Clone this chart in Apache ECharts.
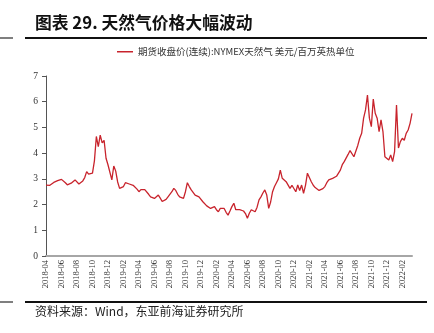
<!DOCTYPE html>
<html><head><meta charset="utf-8">
<script src="https://cdn.jsdelivr.net/npm/echarts@6/dist/echarts.min.js"></script>
<style>html,body{margin:0;padding:0;background:#fff}#c{width:434px;height:333px}</style>
</head><body><div id="c"></div>
<script>
var months = ['2018-04','2018-05','2018-06','2018-07','2018-08','2018-09','2018-10','2018-11','2018-12',
 '2019-01','2019-02','2019-03','2019-04','2019-05','2019-06','2019-07','2019-08','2019-09','2019-10','2019-11','2019-12',
 '2020-01','2020-02','2020-03','2020-04','2020-05','2020-06','2020-07','2020-08','2020-09','2020-10','2020-11','2020-12',
 '2021-01','2021-02','2021-03','2021-04','2021-05','2021-06','2021-07','2021-08','2021-09','2021-10','2021-11','2021-12',
 '2022-01','2022-02','2022-03'];
// weekly closes, one row per month (USD/MMBtu)
var weeklyPrices = [
 [2.76,2.72,2.75,2.80],[2.86,2.90,2.93,2.97],[2.98,2.93,2.85,2.77],[2.76,2.83,2.90,2.96],
 [2.90,2.80,2.80,2.92],[3.05,3.28,3.18,3.25],[3.22,3.70,4.65,4.25],[4.70,4.40,4.50,3.80],
 [3.55,3.60,2.96,3.50],[3.30,2.88,2.63,2.60],[2.70,2.85,2.82,2.80],[2.83,2.75,2.68,2.60],
 [2.50,2.58,2.63,2.58],[2.57,2.40,2.30,2.25],[2.24,2.30,2.37,2.25],[2.12,2.15,2.20,2.30],
 [2.35,2.50,2.63,2.55],[2.40,2.30,2.27,2.24],[2.50,2.85,2.70,2.57],[2.50,2.37,2.33,2.30],
 [2.25,2.11,2.05,1.95],[1.88,1.85,1.90,1.92],[1.80,1.72,1.85,1.80],[1.85,1.70,1.59,1.75],
 [1.92,2.05,1.80,1.78],[1.80,1.79,1.75,1.65],[1.47,1.66,1.80,1.75],[1.72,1.90,2.18,2.30],
 [2.45,2.57,2.37,1.85],[2.10,2.50,2.70,2.85],[3.00,3.34,3.02,2.95],[2.89,2.83,2.63,2.75],
 [2.70,2.50,2.76,2.55],[2.76,2.44,2.75,3.22],[3.15,2.89,2.75,2.66],[2.63,2.55,2.50,2.62],
 [2.70,2.85,2.96,3.00],[3.02,3.05,3.10,3.15],[3.34,3.55,3.67,3.67],[3.95,4.10,4.12,3.86],
 [3.93,4.30,4.58,4.77],[5.36,5.68,6.26,5.36],[5.03,6.10,5.55,5.36],[4.84,5.29,4.84,3.86],
 [3.80,3.73,3.93,3.67],[4.06,5.87,4.20,4.45],[4.58,4.50,4.77,4.90],[5.16,5.55]
];
var seriesName = '期货收盘价(连续):NYMEX天然气 美元/百万英热单位';
var titleText = '图表 29. 天然气价格大幅波动';
var sourceText = '资料来源：Wind，东亚前海证券研究所';

var cats = [], vals = [], labelIdx = {};
months.forEach(function(m, i){
  weeklyPrices[i].forEach(function(v, k){
    if (k === 0 && i % 2 === 0) labelIdx[cats.length] = true;
    cats.push(k === 0 ? m : m + '#' + k);
    vals.push(v);
  });
});

var chart = echarts.init(document.getElementById('c'), null, {renderer:'canvas'});
chart.setOption({
  animation:false,
  backgroundColor:'#fff',
  grid:{left:46,right:22,top:76,bottom:77},
  legend:{
    left:112, top:42, icon:'rect', itemWidth:16, itemHeight:1.5, itemGap:4,
    textStyle:{fontSize:9.5,color:'#333',fontFamily:'"Noto Sans CJK SC", sans-serif'},
    data:[seriesName]
  },
  xAxis:{
    type:'category', data:cats, boundaryGap:false,
    axisLine:{lineStyle:{color:'#a6a6a6',width:2}},
    axisTick:{show:false},
    axisLabel:{
      rotate:90, margin:4, fontSize:8.5, color:'#333', fontFamily:'"Liberation Serif", serif',
      interval:function(idx){ return !!labelIdx[idx]; },
      formatter:function(v){ return v.split('#')[0]; }
    },
    splitLine:{show:false}
  },
  yAxis:{
    type:'value', min:0, max:7, interval:1,
    axisLine:{show:true,lineStyle:{color:'#555',width:1}},
    axisTick:{show:true,length:4,lineStyle:{color:'#555'}},
    axisLabel:{fontSize:9.5,color:'#333',margin:8,fontFamily:'"Liberation Serif", serif'},
    splitLine:{show:false}
  },
  series:[{
    name:seriesName, type:'line', data:vals, showSymbol:false, symbol:'none',
    lineStyle:{color:'#c8232c',width:1.3}, itemStyle:{color:'#c8232c'}
  }],
  graphic:[
    {type:'text',left:35,top:14,style:{text:titleText,fontSize:16.8,fontWeight:'bold',fill:'#111',fontFamily:'"Noto Sans CJK SC", sans-serif'}},
    {type:'line',shape:{x1:0,y1:38,x2:13,y2:38},style:{stroke:'#555',lineWidth:1.5}},
    {type:'line',shape:{x1:25,y1:38,x2:427,y2:38},style:{stroke:'#111',lineWidth:1.8}},
    {type:'line',shape:{x1:0,y1:302,x2:13,y2:302},style:{stroke:'#555',lineWidth:1.5}},
    {type:'line',shape:{x1:25,y1:302,x2:427,y2:302},style:{stroke:'#111',lineWidth:1.8}},
    {type:'text',left:35,top:305,style:{text:sourceText,fontSize:12,fill:'#222',fontFamily:'"Noto Sans CJK SC", sans-serif'}}
  ]
});
</script></body></html>
